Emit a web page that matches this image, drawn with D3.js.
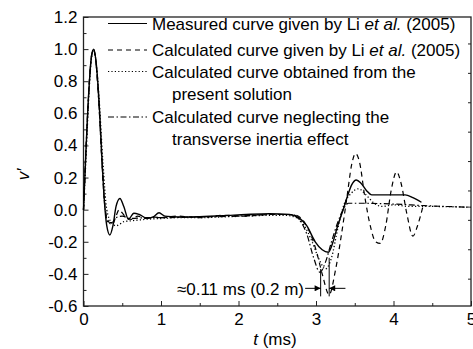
<!DOCTYPE html>
<meta charset="utf-8">
<script src="https://d3js.org/d3.v7.min.js"></script>
<style>
  body { margin: 0; background: #fff; }
  text { font-family: "Liberation Sans", Arial, sans-serif; fill: #000; }
</style>
<div id="my_dataviz"></div>
<script>

  // tick values
  var xTicks = [0, 1, 2, 3, 4, 5];
  var xMinor = [0.5, 1.5, 2.5, 3.5, 4.5];
  var yTicks = [-0.6, -0.4, -0.2, 0.0, 0.2, 0.4, 0.6, 0.8, 1.0, 1.2];
  var yMinor = [-0.5, -0.3, -0.1, 0.1, 0.3, 0.5, 0.7, 0.9, 1.1];

  // curves, [t (ms), v']
  var measured = [[0,0],[0.03,0.35],[0.07,0.75],[0.1,0.94],[0.13,1.0],[0.16,0.93],[0.2,0.68],[0.24,0.3],
    [0.27,0.05],[0.3,-0.1],[0.34,-0.158],[0.38,-0.1],[0.42,0.02],[0.47,0.07],[0.52,0.02],[0.58,-0.06],
    [0.65,-0.022],[0.72,-0.03],[0.82,-0.054],[0.9,-0.045],[0.975,-0.019],[1.05,-0.04],[1.15,-0.044],
    [1.3,-0.046],[1.5,-0.044],[1.8,-0.038],[2.1,-0.03],[2.4,-0.025],[2.66,-0.03],[2.79,-0.054],
    [2.88,-0.1],[2.99,-0.2],[3.08,-0.25],[3.16,-0.265],[3.22,-0.2],[3.28,-0.1],[3.35,0.0],[3.41,0.09],
    [3.46,0.154],[3.52,0.185],[3.58,0.165],[3.65,0.12],[3.72,0.092],[3.9,0.092],[4.15,0.092],
    [4.25,0.075],[4.36,0.046]];

  var liCalc = [[0,0],[0.03,0.35],[0.07,0.75],[0.1,0.95],[0.13,1.0],[0.16,0.92],[0.2,0.65],[0.24,0.28],
    [0.28,0.0],[0.32,-0.07],[0.37,-0.095],[0.42,-0.04],[0.46,0.0],[0.5,-0.02],[0.55,-0.05],[0.62,-0.06],
    [0.7,-0.04],[0.8,-0.055],[0.9,-0.045],[1.0,-0.05],[1.2,-0.04],[1.5,-0.05],[1.8,-0.035],[2.1,-0.04],
    [2.4,-0.03],[2.7,-0.03],[2.8,-0.05],[2.9,-0.12],[3.0,-0.25],[3.08,-0.4],[3.17,-0.53],[3.25,-0.38],
    [3.33,-0.15],[3.4,0.08],[3.46,0.28],[3.51,0.35],[3.56,0.3],[3.63,0.08],[3.7,-0.1],[3.77,-0.2],
    [3.83,-0.21],[3.9,-0.1],[3.97,0.12],[4.04,0.235],[4.1,0.16],[4.17,-0.02],[4.25,-0.165],[4.31,-0.1],
    [4.38,0.02]];

  var present = [[0,0],[0.03,0.3],[0.07,0.72],[0.1,0.93],[0.13,0.99],[0.16,0.93],[0.2,0.7],[0.25,0.3],
    [0.3,0.0],[0.36,-0.08],[0.42,-0.1],[0.47,-0.09],[0.52,-0.075],[0.6,-0.07],[0.7,-0.065],[0.8,-0.06],
    [1.0,-0.055],[1.2,-0.05],[1.5,-0.05],[1.8,-0.045],[2.1,-0.04],[2.4,-0.035],[2.6,-0.035],[2.75,-0.05],
    [2.85,-0.1],[2.95,-0.2],[3.05,-0.32],[3.12,-0.37],[3.2,-0.3],[3.28,-0.12],[3.36,0.03],[3.45,0.1],
    [3.55,0.13],[3.65,0.09],[3.75,0.04],[3.85,0.02],[4.0,0.03],[4.2,0.02],[4.5,0.02],[5.0,0.015]];

  var noInertia = [[0,0],[0.03,0.35],[0.07,0.75],[0.1,0.95],[0.13,1.0],[0.16,0.92],[0.2,0.65],[0.24,0.28],
    [0.28,0.0],[0.32,-0.08],[0.37,-0.08],[0.42,-0.05],[0.5,-0.04],[0.6,-0.055],[0.8,-0.05],[1.0,-0.05],
    [1.5,-0.045],[2.0,-0.04],[2.4,-0.03],[2.7,-0.03],[2.78,-0.06],[2.88,-0.15],[2.97,-0.3],[3.05,-0.39],
    [3.12,-0.33],[3.2,-0.2],[3.28,-0.08],[3.35,0.0],[3.42,0.04],[3.6,0.04],[4.0,0.035],[4.4,0.025],
    [5.0,0.015]];

  var legendLabels = [
    ["Measured curve given by Li ", "et al.", " (2005)"],
    ["Calculated curve given by Li ", "et al.", " (2005)"],
    ["Calculated curve obtained from the", "present solution"],
    ["Calculated curve neglecting the", "transverse inertia effect"]
  ];

  // annotation: the two minima 0.11 ms apart
  var gapT = [3.06, 3.17];
  var gapLabel = "\u22480.11 ms (0.2 m)";

  var margin = {top: 17, right: 2, bottom: 43, left: 83.5},
      width = 473 - margin.left - margin.right,
      height = 349 - margin.top - margin.bottom;

  var svg = d3.select("#my_dataviz")
    .append("svg")
      .attr("width", 473)
      .attr("height", 349)
    .append("g")
      .attr("transform", "translate(" + margin.left + "," + margin.top + ")");

  var x = d3.scaleLinear().domain([0, 5]).range([0, width]);
  var y = d3.scaleLinear().domain([-0.6, 1.2]).range([height, 0]);
  // right side carries its own, unlabeled tick spacing
  var yR = d3.scaleLinear().domain([-0.9, 8.93]).range([0, height]);

  var axisColor = "#222";

  // X axis
  var gx = svg.append("g")
    .attr("transform", "translate(0," + height + ")")
    .call(d3.axisBottom(x).tickValues(xTicks).tickSizeInner(-5).tickSizeOuter(0).tickPadding(7).tickFormat(d3.format("d")));
  gx.selectAll("text").style("font-size", "17px");
  svg.append("g")
    .attr("transform", "translate(0," + height + ")")
    .call(d3.axisBottom(x).tickValues(xMinor).tickSizeInner(-3).tickSizeOuter(0).tickFormat(""));

  // Y axis
  var gy = svg.append("g")
    .call(d3.axisLeft(y).tickValues(yTicks).tickSizeInner(-5).tickSizeOuter(0).tickPadding(6)
      .tickFormat(function(d) { return d.toFixed(1); }));
  gy.selectAll("text").style("font-size", "17px");
  svg.append("g")
    .call(d3.axisLeft(y).tickValues(yMinor).tickSizeInner(-3).tickSizeOuter(0).tickFormat(""));

  // right axis
  svg.append("g")
    .attr("transform", "translate(" + width + ",0)")
    .call(d3.axisRight(yR).tickValues(d3.range(0, 9)).tickSizeInner(-3).tickSizeOuter(0).tickFormat(""));

  svg.selectAll(".domain").remove();
  svg.selectAll(".tick line").attr("stroke", axisColor).attr("stroke-width", 1);

  // frame
  svg.append("rect")
    .attr("x", 0).attr("y", 0)
    .attr("width", width).attr("height", height)
    .attr("fill", "none")
    .attr("stroke", axisColor)
    .attr("stroke-width", 1.3);

  // curves
  var line = d3.line()
    .x(function(d) { return x(d[0]); })
    .y(function(d) { return y(d[1]); })
    .curve(d3.curveMonotoneX);

  var series = [
    {data: measured, dash: null, w: 1.4},
    {data: liCalc, dash: "5,4", w: 1.2},
    {data: present, dash: "1.2,2.2", w: 1.3},
    {data: noInertia, dash: "6,2.5,1.5,2.5", w: 1.2}
  ];

  svg.append("g")
    .selectAll("path")
    .data(series)
    .enter().append("path")
      .attr("d", function(d) { return line(d.data); })
      .attr("fill", "none")
      .attr("stroke", "#000")
      .attr("stroke-width", function(d) { return d.w; })
      .attr("stroke-dasharray", function(d) { return d.dash; });

  // annotation
  svg.append("defs").append("marker")
    .attr("id", "arrow")
    .attr("viewBox", "0 0 10 10")
    .attr("refX", 10).attr("refY", 5)
    .attr("markerWidth", 7).attr("markerHeight", 6)
    .attr("markerUnits", "userSpaceOnUse")
    .attr("orient", "auto")
    .append("path").attr("d", "M0,0L10,5L0,10z").attr("fill", "#000");

  svg.append("line")
    .attr("x1", x(gapT[0])).attr("x2", x(gapT[0]))
    .attr("y1", y(-0.37)).attr("y2", y(-0.54))
    .attr("stroke", "#000").attr("stroke-width", 1);
  svg.append("line")
    .attr("x1", x(gapT[1])).attr("x2", x(gapT[1]))
    .attr("y1", y(-0.3)).attr("y2", y(-0.54))
    .attr("stroke", "#000").attr("stroke-width", 1);
  svg.append("line")
    .attr("x1", x(2.86)).attr("x2", x(gapT[0]))
    .attr("y1", y(-0.49)).attr("y2", y(-0.49))
    .attr("stroke", "#000").attr("stroke-width", 1)
    .attr("marker-end", "url(#arrow)");
  svg.append("line")
    .attr("x1", x(3.38)).attr("x2", x(gapT[1]))
    .attr("y1", y(-0.49)).attr("y2", y(-0.49))
    .attr("stroke", "#000").attr("stroke-width", 1)
    .attr("marker-end", "url(#arrow)");
  svg.append("text")
    .attr("x", x(2.845)).attr("y", y(-0.531))
    .attr("text-anchor", "end")
    .style("font-size", "17px")
    .text(gapLabel);

  // legend
  var legendRows = [6.5, 33, 54.5, 100];
  var legend = svg.append("g").attr("transform", "translate(24.5,0)");
  legendLabels.forEach(function(lab, i) {
    var ly = legendRows[i];
    legend.append("line")
      .attr("x1", 0).attr("x2", 39)
      .attr("y1", ly).attr("y2", ly)
      .attr("stroke", "#000").attr("stroke-width", 1.2)
      .attr("stroke-dasharray", series[i].dash);
    var t = legend.append("text")
      .attr("x", 44).attr("y", ly + 6)
      .style("font-size", "17px");
    if (lab.length === 3) {
      t.append("tspan").text(lab[0]);
      t.append("tspan").style("font-style", "italic").text(lab[1]);
      t.append("tspan").text(lab[2]);
    } else {
      t.text(lab[0]);
      legend.append("text")
        .attr("x", 64).attr("y", ly + 28)
        .style("font-size", "17px")
        .text(lab[1]);
    }
  });

  // axis titles
  var xt = svg.append("text")
    .attr("x", x(2.47)).attr("y", height + 39)
    .attr("text-anchor", "middle")
    .style("font-size", "17px");
  xt.append("tspan").style("font-style", "italic").text("t");
  xt.append("tspan").text(" (ms)");

  svg.append("text")
    .attr("transform", "translate(" + (-60) + "," + y(0.22) + ") rotate(-90)")
    .attr("text-anchor", "middle")
    .attr("dy", "0.35em")
    .style("font-size", "17px")
    .style("font-style", "italic")
    .text("v\u2032");

</script>
